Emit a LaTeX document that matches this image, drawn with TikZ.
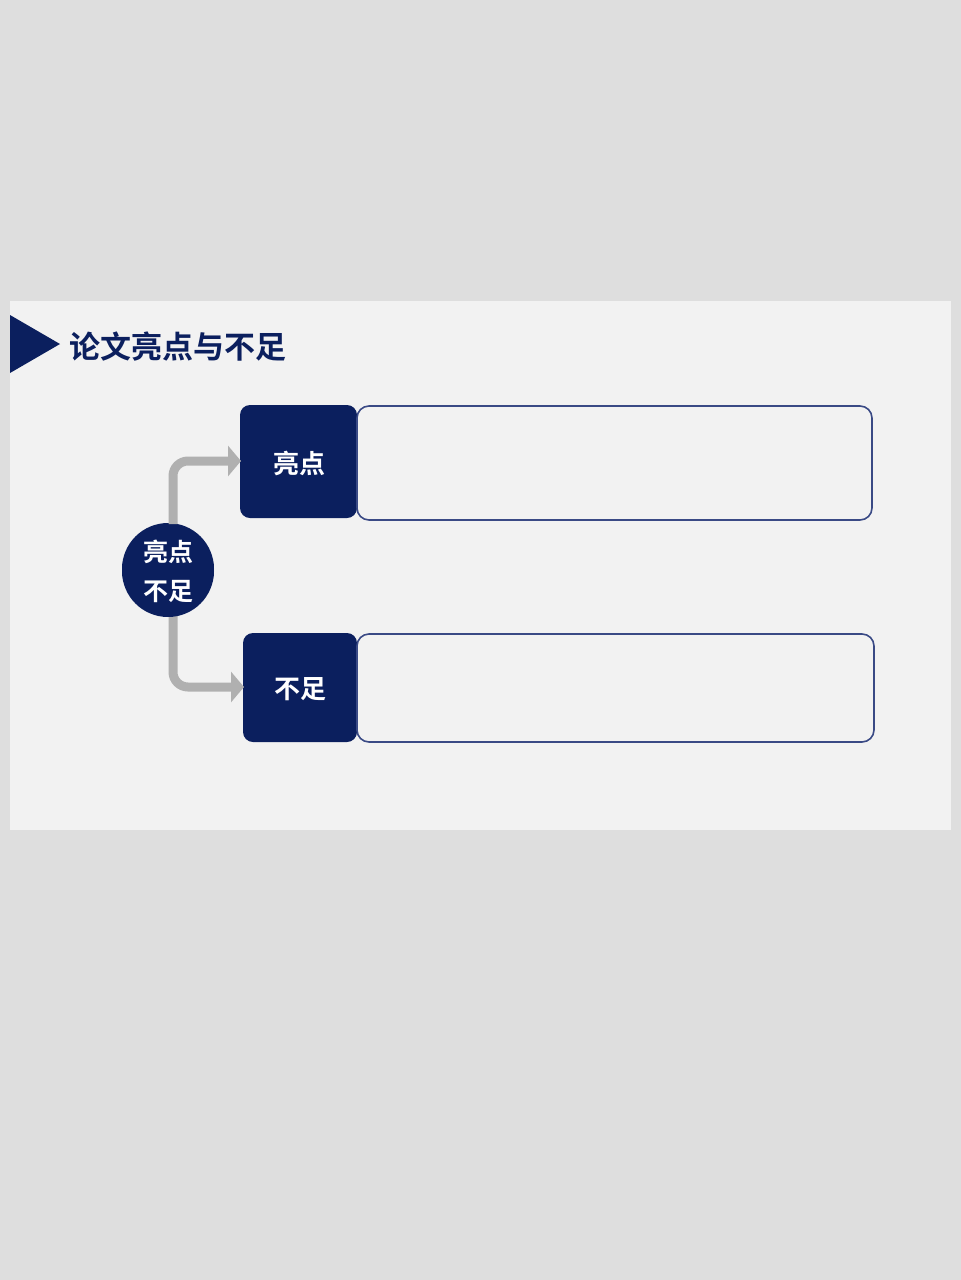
\documentclass[tikz,border=0pt]{standalone}
\usepackage{fontspec}
\newfontfamily\cjkb{Noto Sans CJK SC Bold}
\usetikzlibrary{arrows.meta}
\definecolor{navy}{HTML}{0B1F5E}
\definecolor{panel}{HTML}{F2F2F2}
\definecolor{outer}{HTML}{DEDEDE}
\definecolor{arrowgray}{HTML}{B0B0B0}
\definecolor{outline}{HTML}{3A4A85}
\tikzset{
  darkbox/.style={fill=navy, rounded corners=10pt},
  boxtext/.style={text=white, font=\cjkb\fontsize{26}{28}\selectfont},
  emptybox/.style={draw=outline, line width=1.6pt, rounded corners=12pt},
  conn/.style={draw=arrowgray, line width=9pt, rounded corners=15pt, -{Triangle[length=13pt,width=30pt]}},
}
\begin{document}
\begin{tikzpicture}[x=1pt,y=-1pt]
\useasboundingbox (0,0) rectangle (961,1280);
\fill[outer] (0,0) rectangle (961,1280);
\fill[panel] (10,301) rectangle (951,830);
\fill[navy] (10,315) -- (60,344) -- (10,373) -- cycle;
\node[anchor=west, text=navy, font=\cjkb\fontsize{31}{34}\selectfont, inner sep=0pt] (title) at (69,347) {论文亮点与不足};
% boxes
\path[darkbox] (240,405) rectangle (357,518);
\node[boxtext] (hl) at (299,463) {亮点};
\path[emptybox] (357,406) rectangle (872,520);
\path[darkbox] (243,633) rectangle (357,742);
\node[boxtext] (df) at (300,689) {不足};
\path[emptybox] (357,634) rectangle (874,742);
\coordinate (hlw) at (241,461);
\coordinate (dfw) at (244,687);
% connectors
\node[circle, fill=navy, minimum size=92pt, inner sep=0pt] (c) at (168,569) {};
\draw[conn] (173,524) -- (173,461) -- (hlw);
\draw[conn] (173,614) -- (173,687) -- (dfw);
\node[circle, fill=navy, minimum size=92pt, inner sep=0pt, text=white, align=center, font=\cjkb\fontsize{25}{39}\selectfont] (c2) at (168,571) {亮点\\不足};
\end{tikzpicture}
\end{document}
